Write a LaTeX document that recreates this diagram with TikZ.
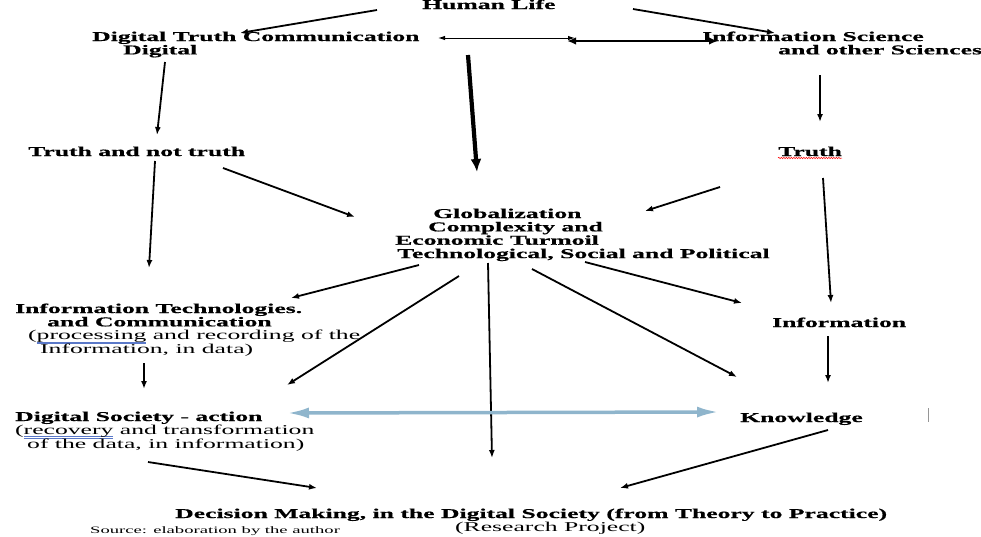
\documentclass[tikz,border=0pt]{standalone}
\usepackage{fontspec}
\setmainfont{Liberation Serif}[FakeStretch=1.9,BoldFeatures={FakeBold=0.6}]
\usetikzlibrary{arrows.meta,decorations.pathmorphing}
\definecolor{gramblue}{RGB}{90,120,200}
\definecolor{linkblue}{RGB}{143,181,204}
\definecolor{cursorgray}{RGB}{150,150,150}
\newcommand\lns[1]{\begin{tabular}[t]{@{}l@{}}#1\end{tabular}}
\newlength\gramw
\newcommand\gramu[1]{\settowidth{\gramw}{#1}\rlap{\color{gramblue}\rule[-2.2pt]{\gramw}{0.5pt}}\rlap{\color{gramblue}\rule[-3.6pt]{\gramw}{0.5pt}}#1}
\begin{document}
\begin{tikzpicture}[x=1pt,y=-1pt,
  lbl/.style={inner sep=0pt, anchor=base west, font=\fontsize{13.5}{13.3}\selectfont\bfseries},
  srclbl/.style={inner sep=0pt, anchor=base west, font=\fontsize{9.8}{11}\selectfont},
  arr/.style={line width=1.8pt, -{Latex[length=8pt,width=6pt]}},
  thinboth/.style={line width=1pt, {Latex[length=7pt,width=4.5pt]}-{Latex[length=7pt,width=4.5pt]}},
  thickboth/.style={line width=2.6pt, {Latex[length=9pt,width=7.5pt]}-{Latex[length=9pt,width=7.5pt]}},
  bigarr/.style={line width=4.2pt, -{Latex[length=13pt,width=11pt]}},
  blueboth/.style={line width=3.5pt, draw=linkblue, {Latex[length=22pt,width=11pt]}-{Latex[length=22pt,width=11pt]}},
  spell/.style={draw=red, line width=0.5pt, decorate, decoration={snake, amplitude=0.7pt, segment length=2.5pt}},
  cursor/.style={line width=0.8pt, draw=cursorgray}]
\useasboundingbox (0,0) rectangle (981,536);

% nodes
\node[lbl] (life) at (422,9) {Human Life};
\node[lbl] (dtc) at (92,41) {\lns{Digital Truth Communication\\ \hspace*{31pt}Digital}};
\node[lbl] (isci) at (702,41) {\lns{Information Science\\ \hspace*{76pt}and other Sciences}};
\node[lbl] (tnt) at (28,156) {Truth and not truth};
\node[lbl] (truth) at (778,156) {Truth};
\node[lbl] (glob) at (395,218) {\lns{\hspace*{38pt}Globalization\\ \hspace*{33pt}Complexity and\\ Economic Turmoil\\ \hspace*{2pt}Technological, Social and Political}};
\node[lbl] (itc) at (15,313) {\lns{Information Technologies.\\ \hspace*{32pt}and Communication\\ \hspace*{13pt}\mdseries(\gramu{processing} and recording of the\\ \hspace*{25pt}\mdseries Information, in data)}};
\node[lbl] (info) at (772,327) {Information};
\node[lbl] (dsa) at (15,421) {\lns{Digital Society - action\\ \mdseries(\gramu{recovery} and transformation\\ \hspace*{12pt}\mdseries of the data, in information)}};
\node[lbl] (know) at (740,422) {Knowledge};
\node[lbl] (dec) at (175,518) {\lns{Decision Making, in the Digital Society (from Theory to Practice)\\ \hspace*{280pt}\mdseries(Research Project)}};
\node[srclbl] (src) at (90,533) {Source: elaboration by the author};

\coordinate (mid) at (567,41);
\coordinate (curtop) at (928,408);
\coordinate (curbot) at (928,422);

% spelling mark under Truth
\draw[spell] ([shift={(0,2)}]truth.base west) -- ([shift={(0,2)}]truth.base east);

% connectors
\draw[arr] ([shift={(-45,1)}]life.base west) -- ([shift={(148,-8)}]dtc.base west);
\draw[arr] ([shift={(211,0)}]life.base west) -- ([shift={(73,-8)}]isci.base west);
\draw[thinboth] ([shift={(346,-3)}]dtc.base west) -- ([shift={(8,-3)}]mid);
\draw[thickboth] (mid) -- ([shift={(16,0)}]isci.base west);
\draw[bigarr] ([shift={(46,46)}]life.base west) -- ([shift={(82,-46)}]glob.base west);
\draw[arr] ([shift={(73,21)}]dtc.base west) -- ([shift={(129,-21)}]tnt.base west);
\draw[arr] ([shift={(118,34)}]isci.base west) -- ([shift={(42,-34)}]truth.base west);
\draw[arr] ([shift={(127,5)}]tnt.base west) -- ([shift={(134,-45)}]itc.base west);
\draw[arr] ([shift={(195,12)}]tnt.base west) -- ([shift={(-40,-1)}]glob.base west);
\draw[arr] ([shift={(45,22)}]truth.base west) -- ([shift={(59,-24)}]info.base west);
\draw[arr] ([shift={(-58,31)}]truth.base west) -- ([shift={(250,-7)}]glob.base west);
\draw[arr] ([shift={(24,47)}]glob.base west) -- ([shift={(276,-15)}]itc.base west);
\draw[arr] ([shift={(64,58)}]glob.base west) -- ([shift={(272,-36)}]dsa.base west);
\draw[arr] ([shift={(93,45)}]glob.base west) -- ([shift={(317,-60)}]dec.base west);
\draw[arr] ([shift={(137,51)}]glob.base west) -- ([shift={(-3,-45)}]know.base west);
\draw[arr] ([shift={(190,44)}]glob.base west) -- ([shift={(-30,-24)}]info.base west);
\draw[arr] ([shift={(129,50)}]itc.base west) -- ([shift={(129,-32)}]dsa.base west);
\draw[arr] ([shift={(56,9)}]info.base west) -- ([shift={(88,-39)}]know.base west);
\draw[blueboth] ([shift={(272,-8)}]dsa.base west) -- ([shift={(-21,-10)}]know.base west);
\draw[arr] ([shift={(133,41)}]dsa.base west) -- ([shift={(142,-30)}]dec.base west);
\draw[arr] ([shift={(88,8)}]know.base west) -- ([shift={(445,-30)}]dec.base west);
\draw[cursor] (curtop) -- (curbot);
\end{tikzpicture}
\end{document}
